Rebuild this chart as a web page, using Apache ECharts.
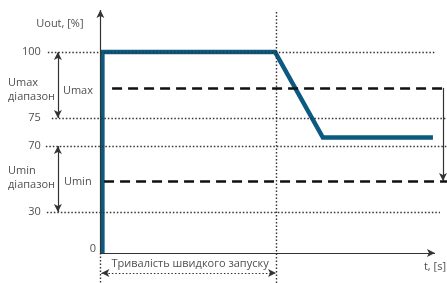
<!DOCTYPE html>
<html>
<head>
<meta charset="utf-8">
<script src="https://cdn.jsdelivr.net/npm/echarts@6/dist/echarts.min.js"></script>
<style>
  html, body { margin: 0; background: #fff; }
  #chart { width: 447px; height: 283px; }
</style>
</head>
<body>
<div id="chart"></div>
<script>
// мітки осі Uout, [%]
const yTicks = [0, 30, 70, 75, 100]
// схема нелінійна: позиція кожної мітки над віссю t
const yTickPos = [0, 41, 107, 135, 201]
// крива Uout під час швидкого запуску
const tData = [0.6, 0.6, 52.2, 66.5, 99.4]
const uData = [0, 100, 100, 71.5, 71.5]
const uMax = 86.4
const uMin = 48.8
const tFast = 52.5

// відсотки -> позиція на схемі
function py(v) {
  for (let i = 1; i < yTicks.length; i++) {
    if (v <= yTicks[i]) {
      const k = (v - yTicks[i - 1]) / (yTicks[i] - yTicks[i - 1])
      return yTickPos[i - 1] + k * (yTickPos[i] - yTickPos[i - 1])
    }
  }
  return yTickPos[yTickPos.length - 1]
}

const font = { fontFamily: 'Open Sans', fontSize: 11, color: '#222' }
const dotted = { type: [1.5, 2], width: 1.4, color: '#333' }
const dashed = { type: [10, 6], width: 2.5, color: '#111' }

function seg(x1, y1, x2, y2, s1, s2) {
  return [
    { coord: [x1, y1], symbol: s1 || 'none' },
    { coord: [x2, y2], symbol: s2 || 'none' }
  ]
}

function lines(style, data) {
  return {
    type: 'line',
    data: [],
    silent: true,
    markLine: {
      silent: true,
      animation: false,
      symbolSize: [6, 8],
      label: { show: false },
      emphasis: { disabled: true },
      lineStyle: style,
      data: data
    }
  }
}

function note(x, y, text, align) {
  return {
    value: [x, y],
    label: { show: true, position: 'inside', align: align || 'center', verticalAlign: 'middle', formatter: text, lineHeight: 14, ...font }
  }
}

// тики (крім 0)
const tickNotes = yTicks.filter(v => v > 0).map(v => note(-17.8, py(v), String(v), 'right'))

let chart = echarts.init(document.getElementById('chart'))
chart.setOption({
  animation: false,
  grid: { left: 0, right: 0, top: 0, bottom: 0 },
  xAxis: { type: 'value', min: -30, max: 103.6, show: false },
  yAxis: { type: 'value', min: -30, max: 253, show: false },
  series: [
    // пунктирні допоміжні лінії
    lines(dotted, [
      seg(-15.7, py(100), 99.8, py(100)),
      seg(-14.5, py(75), 103.6, py(75)),
      seg(-16.3, py(70), 103.6, py(70)),
      seg(-16, py(30), 101.5, py(30)),
      seg(tFast, 241, tFast, -30),
      seg(0, 0, 0, -30)
    ]),
    lines({ ...dotted, width: 1.2 }, [
      seg(0.3, -20, tFast, -20, 'arrow', 'arrow')
    ]),
    // рівні Umax / Umin
    lines(dashed, [
      seg(3.5, py(uMax), 102.4, py(uMax)),
      seg(1.1, py(uMin), 103.6, py(uMin))
    ]),
    // осі та діапазони
    lines({ type: 'solid', width: 1.2, color: '#333' }, [
      seg(0, 0, 0, 243, 'none', 'arrow'),
      seg(0, 0, 100, 0, 'none', 'arrow'),
      seg(-12.7, py(100), -12.7, py(75), 'arrow', 'arrow'),
      seg(-12.7, py(70), -12.7, py(30), 'arrow', 'arrow'),
      seg(102.4, py(uMax), 102.4, py(uMin), 'none', 'arrow')
    ]),
    {
      type: 'line',
      data: tData.map((t, i) => [t, py(uData[i])]),
      symbol: 'none',
      silent: true,
      lineStyle: { color: '#0c5a82', width: 4.5, join: 'miter', cap: 'butt' }
    },
    {
      type: 'scatter',
      symbolSize: 0,
      silent: true,
      data: [
        ...tickNotes,
        note(-1.3, 4, '0', 'right'),
        note(-12.1, 229, 'Uout, [%]'),
        note(-27.6, 163.5, 'Umax\nдіапазон', 'left'),
        note(-11.2, 162, 'Umax', 'left'),
        note(-27.6, 75.5, 'Umin\nдіапазон', 'left'),
        note(-10.9, 71, 'Umin', 'left'),
        note(26.8, -11, 'Тривалість швидкого запуску'),
        note(103.3, -14, 't, [s]', 'right')
      ]
    }
  ]
})
</script>
</body>
</html>
